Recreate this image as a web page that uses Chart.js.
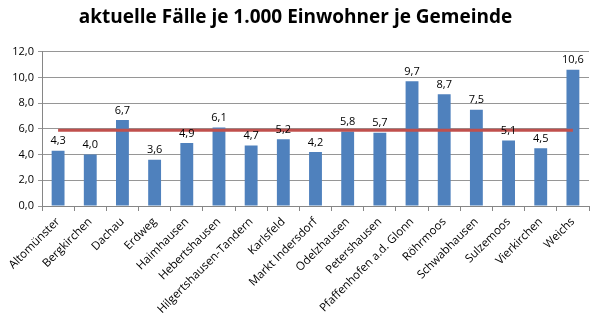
<!DOCTYPE html>
<html>
<head>
<meta charset="utf-8">
<script src="https://cdn.jsdelivr.net/npm/chart.js@4/dist/chart.umd.min.js"></script>
<style>
html,body{margin:0;padding:0;background:#fff;}
#wrap{width:595px;height:336px;position:relative;}
</style>
</head>
<body>
<div id="wrap"><canvas id="c"></canvas></div>
<script>
// ====== Daten ======
const gemeinden = ['Altomünster','Bergkirchen','Dachau','Erdweg','Haimhausen','Hebertshausen','Hilgertshausen-Tandern','Karlsfeld','Markt Indersdorf','Odelzhausen','Petershausen','Pfaffenhofen a.d. Glonn','Röhrmoos','Schwabhausen','Sulzemoos','Vierkirchen','Weichs'];
const faelle    = [4.3,4.0,6.7,3.6,4.9,6.1,4.7,5.2,4.2,5.8,5.7,9.7,8.7,7.5,5.1,4.5,10.6];
const schnitt   = [5.9,5.9,5.9,5.9,5.9,5.9,5.9,5.9,5.9,5.9,5.9,5.9,5.9,5.9,5.9,5.9,5.9];
const titel = 'aktuelle Fälle je 1.000 Einwohner je Gemeinde';

const fmt = v => v.toFixed(1).replace('.', ',');
const FONT = "'Open Sans', 'Liberation Sans', sans-serif";

// ====== Werte über Balken ======
const labelsPlugin = {
  id:'werte',
  afterDatasetsDraw(chart){
    const ctx = chart.ctx, meta = chart.getDatasetMeta(1);
    ctx.save();
    ctx.font = '11px ' + FONT; ctx.fillStyle = '#000'; ctx.textAlign = 'center'; ctx.textBaseline = 'bottom';
    meta.data.forEach((bar,i)=> ctx.fillText(fmt(faelle[i]), bar.x, bar.y - 4));
    ctx.restore();
  }
};

new Chart(document.getElementById('c'), {
  type:'bar',
  data:{
    labels: gemeinden,
    datasets:[
      { type:'line', data:schnitt, borderColor:'#C0504D', borderWidth:3, pointRadius:0, order:0 },
      { type:'bar', data:faelle, backgroundColor:'#4F81BD', barPercentage:0.4, categoryPercentage:1, order:1 }
    ]
  },
  options:{
    responsive:true, maintainAspectRatio:false, animation:false,
    layout:{ padding:{ left:2, right:6, top:0, bottom:0 } },
    plugins:{
      legend:{ display:false },
      tooltip:{ enabled:false },
      title:{ display:true, text:titel, color:'#000', font:{ family:FONT, size:19, weight:'bold' }, padding:{ top:6, bottom:23 } }
    },
    scales:{
      x:{
        offset:true,
        afterFit: s => { s.height = 130; },
        grid:{ offset:true, drawOnChartArea:false, drawTicks:true, tickLength:5, color:'#868686' },
        border:{ color:'#868686' },
        ticks:{ minRotation:45, maxRotation:45, autoSkip:false, color:'#000', padding:4, font:{ family:FONT, size:11.5 } }
      },
      y:{
        min:0, max:12,
        afterFit: s => { s.width = 40; },
        grid:{ color:'#969696', tickLength:4 },
        border:{ color:'#868686' },
        ticks:{ stepSize:2, color:'#000', padding:4, font:{ family:FONT, size:11 }, callback:v=>fmt(v) }
      }
    }
  },
  plugins:[labelsPlugin]
});
</script>
</body>
</html>
